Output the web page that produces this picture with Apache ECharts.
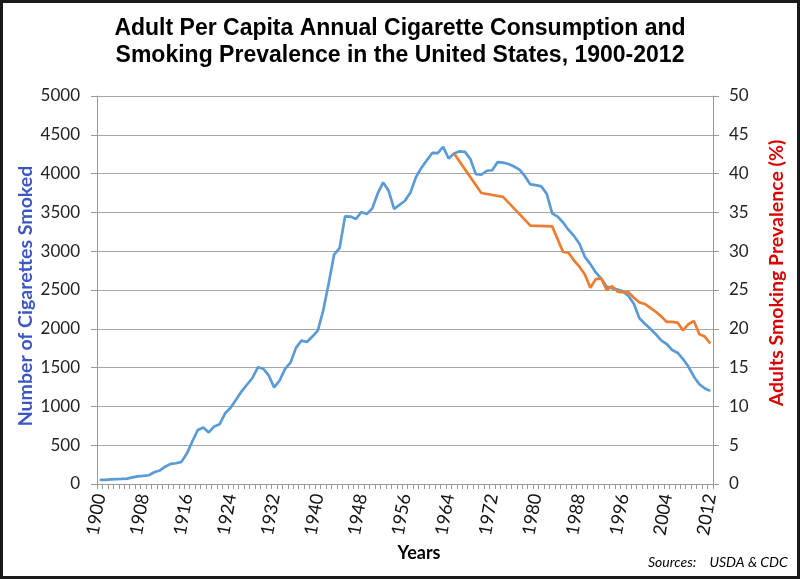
<!DOCTYPE html>
<html>
<head>
<meta charset="utf-8">
<script src="https://cdn.jsdelivr.net/npm/echarts@6/dist/echarts.min.js"></script>
<style>
html,body{margin:0;padding:0;background:#fff;}
#chart{width:800px;height:579px;}
</style>
</head>
<body>
<div id="chart"></div>
<script>
// Years 1900-2012
var years = [];
for (var y = 1900; y <= 2012; y++) years.push(String(y));

// Adult per capita annual cigarette consumption (left axis), 1900-2012
var cigarettes = [
  54, 53, 60, 64, 66, 70, 86, 99, 105, 113,            // 1900-1909
  151, 173, 223, 260, 267, 285, 395, 551, 697, 727,    // 1910-1919
  665, 742, 770, 911, 982, 1085, 1191, 1279, 1366, 1504, // 1920-1929
  1485, 1399, 1245, 1334, 1483, 1564, 1754, 1847, 1830, 1900, // 1930-1939
  1976, 2236, 2585, 2956, 3039, 3449, 3446, 3416, 3505, 3480, // 1940-1949
  3552, 3744, 3886, 3778, 3546, 3597, 3650, 3755, 3953, 4073, // 1950-1959
  4171, 4266, 4265, 4345, 4194, 4258, 4287, 4280, 4186, 3993, // 1960-1969
  3985, 4037, 4043, 4148, 4141, 4123, 4092, 4051, 3967, 3861, // 1970-1979
  3851, 3836, 3739, 3488, 3446, 3370, 3274, 3197, 3096, 2926, // 1980-1989
  2834, 2727, 2647, 2543, 2524, 2505, 2482, 2423, 2320, 2136, // 1990-1999
  2066, 2000, 1930, 1850, 1804, 1727, 1692, 1610, 1510, 1383, // 2000-2009
  1285, 1232, 1200                                        // 2010-2012
];

// Adult smoking prevalence % (right axis); years without a survey are null
var prevalenceYears = [1965, 1970, 1974, 1979, 1983, 1985, 1986, 1987, 1988, 1989,
  1990, 1991, 1992, 1993, 1994, 1995, 1996, 1997, 1998, 1999,
  2000, 2001, 2002, 2003, 2004, 2005, 2006, 2007, 2008, 2009, 2010, 2011, 2012];
var prevalenceValues = [42.6, 37.5, 37.0, 33.3, 33.2, 29.9, 29.8, 28.8, 28.0, 27.0,
  25.3, 26.4, 26.5, 25.0, 25.5, 24.8, 24.7, 24.7, 24.0, 23.4,
  23.2, 22.7, 22.2, 21.6, 20.9, 20.9, 20.8, 19.8, 20.6, 21.0, 19.3, 19.0, 18.1];

var prevalence = years.map(function (yr) {
  var i = prevalenceYears.indexOf(Number(yr));
  return i >= 0 ? prevalenceValues[i] : null;
});

var titleText = 'Adult Per Capita Annual Cigarette Consumption and\nSmoking Prevalence in the United States, 1900-2012';
var leftName = 'Number of Cigarettes Smoked';
var rightName = 'Adults Smoking Prevalence (%)';
var xName = 'Years';
var sourceText = 'Sources:    USDA & CDC';

var chart = echarts.init(document.getElementById('chart'), null, {renderer: 'canvas'});
var axisFont = 'Lato, "Open Sans", sans-serif';
var nameFont = 'bold 19.5px Lato, "Open Sans", sans-serif';
chart.setOption({
  animation: false,
  backgroundColor: '#fff',
  title: {
    text: titleText,
    left: 'center',
    top: 10,
    textStyle: {
      fontFamily: '"Liberation Sans", Arial, sans-serif',
      fontSize: 23,
      fontWeight: 'bold',
      color: '#000',
      lineHeight: 27
    }
  },
  grid: {left: 97, right: 87, top: 96, bottom: 95},
  xAxis: {
    type: 'category',
    data: years,
    boundaryGap: true,
    axisLine: {lineStyle: {color: '#999', width: 1}},
    axisTick: {show: true, interval: 0, length: 5, lineStyle: {color: '#999'}},
    axisLabel: {
      interval: 7,
      rotate: 80,
      fontFamily: axisFont,
      fontSize: 18,
      color: '#111',
      margin: 10
    },
    splitLine: {show: false}
  },
  yAxis: [
    {
      type: 'value',
      min: 0, max: 5000, interval: 500,
      axisLine: {show: true, lineStyle: {color: '#999'}},
      axisTick: {show: true, length: 6, lineStyle: {color: '#999'}},
      axisLabel: {
        fontFamily: axisFont, fontSize: 17, color: '#222', margin: 17,
        formatter: function (v) { return String(v); }
      },
      splitLine: {show: true, lineStyle: {color: '#a6a6a6', width: 1}}
    },
    {
      type: 'value',
      min: 0, max: 50, interval: 5,
      axisLine: {show: true, lineStyle: {color: '#999'}},
      axisTick: {show: true, length: 6, lineStyle: {color: '#999'}},
      axisLabel: {fontFamily: axisFont, fontSize: 17, color: '#222', margin: 16},
      splitLine: {show: false}
    }
  ],
  series: [
    {
      name: 'Cigarettes',
      type: 'line',
      yAxisIndex: 0,
      data: cigarettes,
      showSymbol: false,
      symbol: 'none',
      lineStyle: {color: '#5B9BD5', width: 2.7},
      itemStyle: {color: '#5B9BD5'}
    },
    {
      name: 'Prevalence',
      type: 'line',
      yAxisIndex: 1,
      data: prevalence,
      connectNulls: true,
      showSymbol: false,
      symbol: 'none',
      lineStyle: {color: '#ED7D31', width: 2.7},
      itemStyle: {color: '#ED7D31'}
    }
  ],
  graphic: [
    {
      type: 'rect',
      shape: {x: 1.5, y: 1.5, width: 797, height: 576},
      style: {fill: 'none', stroke: '#1a1a1a', lineWidth: 3},
      silent: true
    },
    {
      type: 'text',
      x: 26, y: 296,
      rotation: Math.PI / 2,
      style: {
        text: leftName, font: nameFont, fill: '#3A57C4',
        align: 'center', verticalAlign: 'middle',
        textAlign: 'center', textVerticalAlign: 'middle'
      }
    },
    {
      type: 'text',
      x: 777, y: 273,
      rotation: Math.PI / 2,
      style: {
        text: rightName, font: nameFont, fill: '#D90000',
        align: 'center', verticalAlign: 'middle',
        textAlign: 'center', textVerticalAlign: 'middle'
      }
    },
    {
      type: 'text',
      x: 419, y: 553,
      style: {
        text: xName, font: 'bold 18px Lato, "Open Sans", sans-serif', fill: '#000',
        align: 'center', verticalAlign: 'middle',
        textAlign: 'center', textVerticalAlign: 'middle'
      }
    },
    {
      type: 'text',
      left: 648,
      top: 555,
      style: {
        text: sourceText,
        fontFamily: axisFont,
        fontSize: 14,
        fontStyle: 'italic',
        fill: '#000'
      }
    }
  ]
});
</script>
</body>
</html>
